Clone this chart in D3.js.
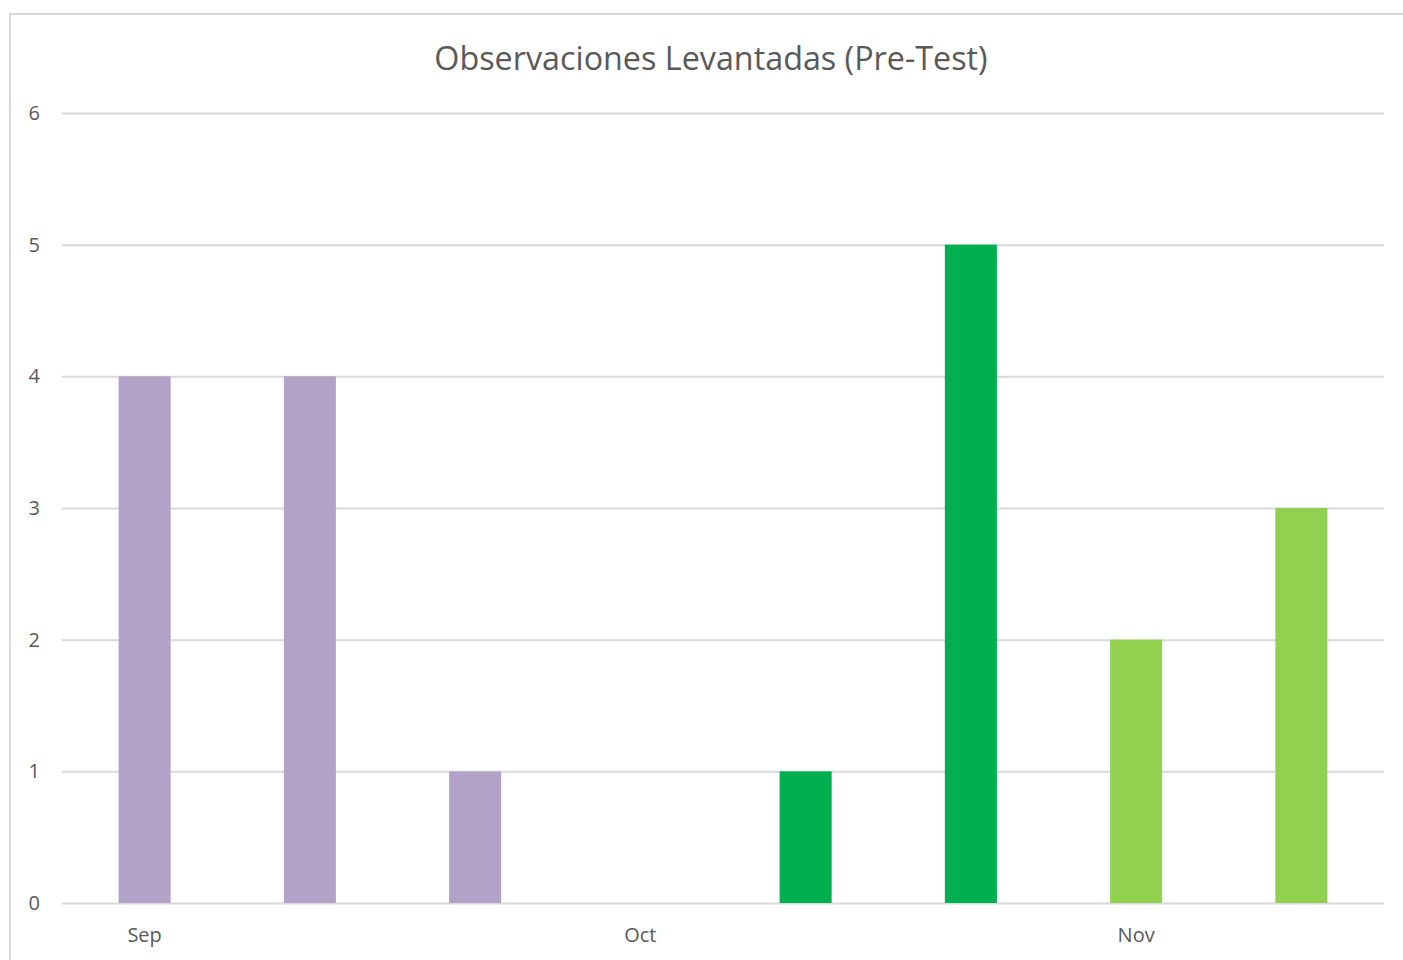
<!DOCTYPE html>
<html><head><meta charset="utf-8">
<script src="https://cdn.jsdelivr.net/npm/d3@7"></script>
<style>body{margin:0;background:#fff}svg{display:block}</style>
</head><body>
<script>
const slots = ["s1","s2","s3","s4","s5","s6","s7","s8"];
const values = [4, 4, 1, 0, 1, 5, 2, 3];
const months = ["Sep","Sep","Sep","Oct","Oct","Oct","Nov","Nov"];
const monthLabels = ["Sep","Oct","Nov"];
const monthLabelSlot = ["s1","s4","s7"];
const monthColors = {Sep:"#B3A2C7", Oct:"#00B050", Nov:"#92D050"};
const yTicks = [0,1,2,3,4,5,6];
const title = "Observaciones Levantadas (Pre-Test)";

(function(){
const W=1403,H=960;
const svg=d3.select("body").append("svg").attr("width",W).attr("height",H);
svg.append("rect").attr("x",10).attr("y",14).attr("width",1400).attr("height",960)
  .attr("fill","#fff").attr("stroke","#d9d9d9").attr("stroke-width",2);

const pl=62,pr=1384,pt=113,pb=903;
const x=d3.scaleBand().domain(slots).range([pl,pr]).paddingInner(0.685).paddingOuter(0.3425);
const y=d3.scaleLinear().domain([0,6]).range([pb,pt]);
const font="'Open Sans', Carlito, Calibri, sans-serif";

svg.append("text").attr("x",711).attr("y",70).attr("text-anchor","middle")
  .attr("font-family",font).attr("font-size",32.3).attr("fill","#595959").text(title);

const yAxis=d3.axisLeft(y).tickValues(yTicks).tickSize(-(pr-pl)).tickPadding(22).tickFormat(d3.format("d"));
const gy=svg.append("g").attr("transform",`translate(${pl},0)`).call(yAxis);
gy.select(".domain").remove();
gy.selectAll(".tick line").attr("stroke","#d9d9d9").attr("stroke-width",2);
gy.selectAll(".tick text").attr("font-family",font).attr("font-size",20).attr("fill","#595959");

svg.append("g").selectAll("rect").data(values).join("rect")
  .attr("x",(d,i)=>x(slots[i])).attr("width",x.bandwidth())
  .attr("y",d=>y(d)).attr("height",d=>y(0)-y(d))
  .attr("fill",(d,i)=>monthColors[months[i]]);

svg.append("g").selectAll("text").data(monthLabels).join("text")
  .attr("x",(d,i)=>x(monthLabelSlot[i])+x.bandwidth()/2).attr("y",942)
  .attr("text-anchor","middle").attr("font-family",font).attr("font-size",20).attr("fill","#595959").text(d=>d);
})();
</script>
</body></html>
